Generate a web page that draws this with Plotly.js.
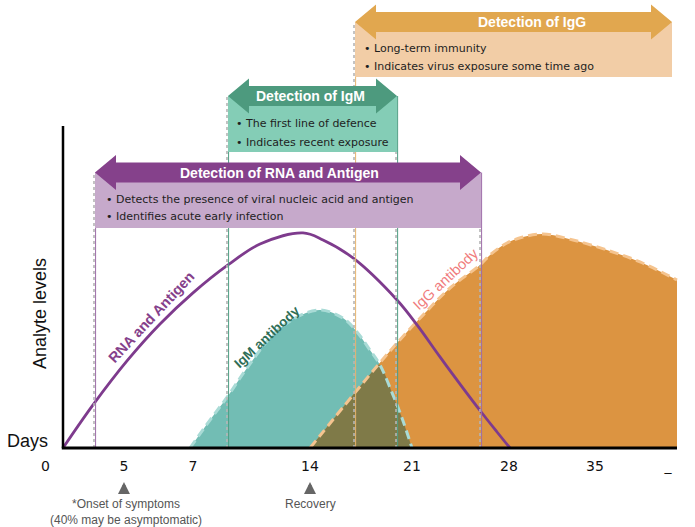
<!DOCTYPE html>
<html>
<head>
<meta charset="utf-8">
<script src="https://cdn.plot.ly/plotly-3.0.1.min.js"></script>
<style>html,body{margin:0;padding:0;background:#fff;}#chart{width:695px;height:527px;}</style>
</head>
<body>
<div id="chart"></div>
<script>
// ---- Data (relative time on x: 0 = onset axis, 100 = end of axis; relative analyte level on y) ----
const tickPos  = [-2.85, 9.93, 21.17, 40.23, 56.84, 72.64, 86.65, 98.54];
const tickText = ['0', '5', '7', '14', '21', '28', '35', '_'];

const rnaX = [0, 4.89, 10.42, 15.80, 21.17, 26.87, 32.09, 39.09, 42.35, 47.23, 54.40, 57.66, 61.40, 65.15, 68.24, 70.69, 72.80];
const rnaY = [0, 20.2, 40.8, 58.1, 72.7, 85.8, 95.6, 100.8, 97.5, 89.1, 69.4, 57.7, 42.7, 28.1, 16.4, 7.5, 0];

const igmX = [20.68, 23.94, 26.87, 29.97, 34.20, 38.11, 41.86, 45.60, 47.88, 50.00, 51.63, 53.75, 55.21, 56.84];
const igmY = [0, 13.1, 24.4, 37.5, 53.0, 61.4, 64.7, 60.9, 54.4, 45.9, 38.9, 24.8, 14.1, 0];

const iggX = [40.23, 47.23, 51.30, 54.40, 58.63, 63.03, 67.92, 69.55, 72.31, 74.92, 78.18, 83.06, 88.60, 93.98, 100.0];
const iggY = [0, 24.8, 38.9, 49.2, 62.3, 75.0, 85.8, 90.5, 96.1, 98.9, 100.3, 97.5, 92.8, 87.2, 78.75];

const detNames = ['Detection of RNA and Antigen', 'Detection of IgM', 'Detection of IgG'];
const detStart = [5.21, 26.87, 47.56];
const detEnd   = [68.08, 54.40, 99.19];
const detBullets = [
  ['Detects the presence of viral nucleic acid and antigen', 'Identifies acute early infection'],
  ['The first line of defence', 'Indicates recent exposure'],
  ['Long-term immunity', 'Indicates virus exposure some time ago']
];
const curveLabels = ['RNA and Antigen', 'IgM antibody', 'IgG antibody'];
const markerLabels = ['*Onset of symptoms<br>(40% may be asymptomatic)', 'Recovery'];
const markerPos = [9.93, 40.23];

// ---- Overlap of IgM and IgG areas (min of both) ----
function interp(xs, ys, x) {
  if (x < xs[0] || x > xs[xs.length - 1]) return 0;
  for (let i = 0; i < xs.length - 1; i++) {
    if (x >= xs[i] && x <= xs[i + 1]) {
      const t = (x - xs[i]) / (xs[i + 1] - xs[i]);
      return ys[i] + t * (ys[i + 1] - ys[i]);
    }
  }
  return 0;
}
const ovLo = iggX[0], ovHi = igmX[igmX.length - 1];
const ovX = Array.from(new Set(igmX.concat(iggX).filter(v => v >= ovLo && v <= ovHi))).sort((a, b) => a - b);
const ovY = ovX.map(x => Math.min(interp(igmX, igmY, x), interp(iggX, iggY, x)));

// ---- Styles ----
const C = {
  rna: '#85418B', rnaBox: '#C6A9CB', rnaLine: '#9D6CA8',
  igm: '#4D9A7E', igmBox: '#84CDB6', igmLine: '#4E9E83',
  igg: '#E1A74F', iggBox: '#F2CDA6', iggLine: '#E8B46C',
  tealFill: '#72BDB4', orangeFill: '#DC9441', olive: '#7F7A48'
};

const traces = [
  {x: igmX, y: igmY, type: 'scatter', mode: 'lines', fill: 'tozeroy', fillcolor: C.tealFill,
   line: {width: 0, shape: 'spline', color: C.tealFill}, hoverinfo: 'skip'},
  {x: iggX, y: iggY, type: 'scatter', mode: 'lines', fill: 'tozeroy', fillcolor: C.orangeFill,
   line: {width: 0, shape: 'spline', color: C.orangeFill}, hoverinfo: 'skip'},
  {x: ovX, y: ovY, type: 'scatter', mode: 'lines', fill: 'tozeroy', fillcolor: C.olive,
   line: {width: 0, shape: 'spline', color: C.olive}, hoverinfo: 'skip'},
  {x: igmX, y: igmY, type: 'scatter', mode: 'lines',
   line: {width: 3, shape: 'spline', color: '#A9DBD6', dash: '9px,5px'}, hoverinfo: 'skip'},
  {x: iggX, y: iggY, type: 'scatter', mode: 'lines',
   line: {width: 3, shape: 'spline', color: '#F5C48F', dash: '9px,5px'}, hoverinfo: 'skip'},
  {x: rnaX, y: rnaY, type: 'scatter', mode: 'lines',
   line: {width: 2.8, shape: 'spline', color: '#7E3B8D'}, hoverinfo: 'skip'}
];

// layout geometry (y units): arrow centre, box bottom
const arrowY = [129.1, 165.0, 199.7];
const boxBottom = [103.1, 138.75, 173.9];
const titleX = [35.18, 40.23, 76.39];
const bulletX = [6.68, 27.85, 48.70];
const bulletY = [[116.7, 108.3], [152.3, 143.4], [187.5, 178.6]];
const arrowCol = [C.rna, C.igm, C.igg];
const boxCol = [C.rnaBox, C.igmBox, C.iggBox];
const lineCol = [C.rnaLine, C.igmLine, C.iggLine];
const HL = 3.42, HH = 8.2, SH = 4.69, PX = 0.1629;

function arrowPath(x1, x2, yc) {
  const p = [[x1, yc], [x1 + HL, yc + HH], [x1 + HL, yc + SH], [x2 - HL, yc + SH], [x2 - HL, yc + HH], [x2, yc],
             [x2 - HL, yc - HH], [x2 - HL, yc - SH], [x1 + HL, yc - SH], [x1 + HL, yc - HH]];
  return 'M' + p.map(q => q[0] + ',' + q[1]).join('L') + 'Z';
}

const shapes = [];
// vertical guide lines (the IgG window is open-ended, so only its start gets a guide)
for (let i = 0; i < 3; i++) {
  const ends = i < 2 ? [detStart[i], detEnd[i]] : [detStart[i]];
  ends.forEach(xv => {
    shapes.push({type: 'line', xref: 'x', yref: 'y', x0: xv - PX, x1: xv - PX, y0: 0, y1: arrowY[i], layer: 'above',
                 line: {color: '#B5B5B5', width: 1.6, dash: 'dot'}});
    shapes.push({type: 'line', xref: 'x', yref: 'y', x0: xv + 0.6 * PX, x1: xv + 0.6 * PX, y0: 0, y1: arrowY[i], layer: 'above',
                 line: {color: lineCol[i], width: 1}});
  });
}
// axes
shapes.push({type: 'line', xref: 'x', yref: 'y', x0: 0, x1: 0, y0: 0, y1: 150.9, layer: 'above', line: {color: '#000', width: 2.5}});
shapes.push({type: 'line', xref: 'x', yref: 'y', x0: -0.2, x1: 100, y0: 0, y1: 0, layer: 'above', line: {color: '#000', width: 3}});
// boxes and arrows
for (let i = 0; i < 3; i++) {
  shapes.push({type: 'rect', xref: 'x', yref: 'y', x0: detStart[i], x1: detEnd[i], y0: boxBottom[i], y1: arrowY[i], layer: 'above',
               fillcolor: boxCol[i], line: {width: 0}});
  shapes.push({type: 'path', xref: 'x', yref: 'y', path: arrowPath(detStart[i], detEnd[i], arrowY[i]), layer: 'above',
               fillcolor: arrowCol[i], line: {width: 0}});
}

const annotations = [];
const bulletFont = {family: 'DejaVu Sans, Verdana, sans-serif', size: 11, color: '#1e1e1e'};
for (let i = 0; i < 3; i++) {
  annotations.push({x: titleX[i], y: arrowY[i], xref: 'x', yref: 'y', text: '<b>' + detNames[i] + '</b>', showarrow: false,
                    font: {family: 'Liberation Sans, Arial, sans-serif', size: 14, color: '#fff'}, xanchor: 'center', yanchor: 'middle'});
  detBullets[i].forEach((b, j) => {
    annotations.push({x: bulletX[i], y: bulletY[i][j], xref: 'x', yref: 'y', text: '• ' + b, showarrow: false,
                      font: bulletFont, xanchor: 'left', yanchor: 'middle'});
  });
}
// curve labels
annotations.push({x: 14.4, y: 61.5, xref: 'x', yref: 'y', text: '<b>' + curveLabels[0] + '</b>', showarrow: false, textangle: -47,
                  font: {family: 'Liberation Sans, Arial, sans-serif', size: 14.5, color: C.rna}});
annotations.push({x: 33.3, y: 52.3, xref: 'x', yref: 'y', text: '<b>' + curveLabels[1] + '</b>', showarrow: false, textangle: -43,
                  font: {family: 'Liberation Sans, Arial, sans-serif', size: 13.5, color: '#2F6E56'}});
annotations.push({x: 62.3, y: 79.4, xref: 'x', yref: 'y', text: curveLabels[2], showarrow: false, textangle: -43,
                  font: {family: 'Liberation Sans, Arial, sans-serif', size: 14.5, color: '#F07C7C'}});
// axis labels
annotations.push({x: -5.86, y: 3.3, xref: 'x', yref: 'y', text: 'Days', showarrow: false,
                  font: {family: 'Liberation Sans, Arial, sans-serif', size: 18, color: '#111'}});
annotations.push({x: -3.75, y: 63.3, xref: 'x', yref: 'y', text: 'Analyte levels', showarrow: false, textangle: -90,
                  font: {family: 'Liberation Sans, Arial, sans-serif', size: 18, color: '#111'}});
// markers below the axis
for (let i = 0; i < 2; i++) {
  annotations.push({x: markerPos[i], y: -0.071, xref: 'x', yref: 'paper', text: '', showarrow: true, ax: 0, ay: 12,
                    arrowhead: 2, arrowsize: 0.8, arrowwidth: 3, arrowcolor: '#666'});
}
annotations.push({x: 10.26, y: -0.1378, xref: 'x', yref: 'paper', text: markerLabels[0], showarrow: false, yanchor: 'middle',
                  font: {family: 'Liberation Sans, Arial, sans-serif', size: 12, color: '#555'}});
annotations.push({x: 40.39, y: -0.12, xref: 'x', yref: 'paper', text: markerLabels[1], showarrow: false, yanchor: 'middle',
                  font: {family: 'Liberation Sans, Arial, sans-serif', size: 12, color: '#555'}});

const layout = {
  width: 695, height: 527,
  margin: {l: 0, r: 0, t: 0, b: 77, pad: 0},
  paper_bgcolor: '#fff', plot_bgcolor: '#fff',
  showlegend: false,
  xaxis: {range: [-10.261, 102.934], showgrid: false, zeroline: false, showline: false, ticks: '',
          tickmode: 'array', tickvals: tickPos, ticktext: tickText, automargin: false, ticklabelstandoff: 6,
          tickfont: {family: 'DejaVu Sans, Verdana, sans-serif', size: 14, color: '#111'}, fixedrange: true},
  yaxis: {range: [-0.9375, 210], showgrid: false, zeroline: false, showline: false, showticklabels: false,
          ticks: '', automargin: false, fixedrange: true},
  shapes: shapes,
  annotations: annotations
};

Plotly.newPlot('chart', traces, layout, {displayModeBar: false, staticPlot: true});
</script>
</body>
</html>
